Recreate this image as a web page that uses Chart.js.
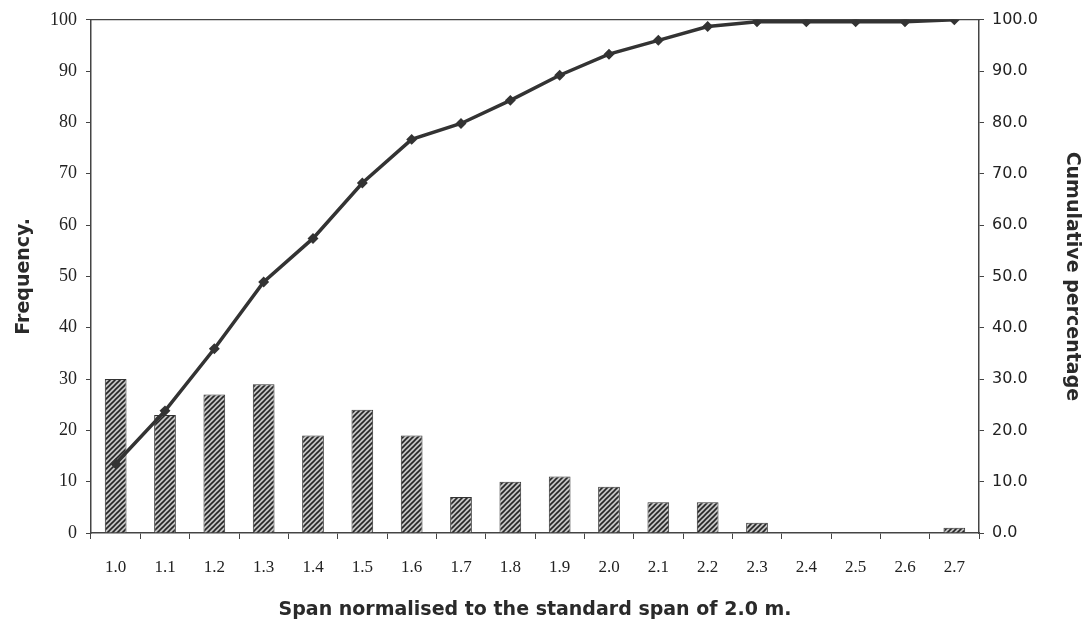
<!DOCTYPE html>
<html>
<head>
<meta charset="utf-8">
<script src="https://cdn.jsdelivr.net/npm/chart.js@4/dist/chart.umd.min.js"></script>
<style>
    body { margin: 0; background: #fff; }
    #wrap { width: 1084px; height: 627px; }
</style>
</head>
<body>
<div id="wrap"><canvas id="spanChart" width="1084" height="627"></canvas></div>
<script>
// Span classes (normalised to 2.0 m)
const spans = ['1.0', '1.1', '1.2', '1.3', '1.4', '1.5', '1.6', '1.7', '1.8',
               '1.9', '2.0', '2.1', '2.2', '2.3', '2.4', '2.5', '2.6', '2.7'];

// Frequency per class (bars, left axis)
const frequency = [30, 23, 27, 29, 19, 24, 19, 7, 10, 11, 9, 6, 6, 2, 0, 0, 0, 1];

// Cumulative percentage (line, right axis)
const cumulative = [13.5, 23.8, 35.9, 48.9, 57.4, 68.2, 76.7, 79.8, 84.3,
                    89.2, 93.3, 96.0, 98.7, 99.6, 99.6, 99.6, 99.6, 100.0];

const serif = "'Liberation Serif', 'Times New Roman', serif";
const sans = "'DejaVu Sans', Arial, sans-serif";
const ink = '#222';
const axisGrey = '#444';

const canvas = document.getElementById('spanChart');
const ctx = canvas.getContext('2d');

// Diagonal hatch fill like the printed chart
function hatchPattern() {
    const n = 5;
    const c = document.createElement('canvas');
    c.width = n;
    c.height = n;
    const g = c.getContext('2d');
    g.fillStyle = '#c4c4c4';
    g.fillRect(0, 0, n, n);
    g.strokeStyle = '#262626';
    g.lineWidth = 1.6;
    g.beginPath();
    g.moveTo(0, n); g.lineTo(n, 0);
    g.moveTo(-1, 1); g.lineTo(1, -1);
    g.moveTo(n - 1, n + 1); g.lineTo(n + 1, n - 1);
    g.stroke();
    return ctx.createPattern(c, 'repeat');
}

const chart = new Chart(ctx, {
    type: 'bar',
    data: {
        labels: spans,
        datasets: [
            {
                type: 'line',
                label: 'Cumulative percentage',
                data: cumulative,
                yAxisID: 'y1',
                borderColor: '#333',
                borderWidth: 3.5,
                pointStyle: 'rectRot',
                pointRadius: 3,
                pointBackgroundColor: '#333',
                pointBorderColor: '#333',
                tension: 0,
                order: 0
            },
            {
                label: 'Frequency',
                data: frequency,
                yAxisID: 'y',
                backgroundColor: hatchPattern(),
                borderColor: '#333',
                borderWidth: 1,
                barPercentage: 0.44,
                categoryPercentage: 1.0,
                order: 1
            }
        ]
    },
    options: {
        responsive: false,
        animation: false,
        layout: { padding: { top: 18, right: 0, left: 0, bottom: 0 } },
        plugins: {
            legend: { display: false },
            tooltip: { enabled: false }
        },
        scales: {
            x: {
                position: 'bottom',
                offset: true,
                grid: {
                    offset: true,
                    drawOnChartArea: false,
                    tickLength: 6,
                    color: axisGrey
                },
                border: { color: axisGrey, width: 1.5 },
                ticks: {
                    color: ink,
                    font: { family: serif, size: 17 },
                    padding: 18,
                    maxRotation: 0
                },
                title: {
                    display: true,
                    text: 'Span normalised to the standard span of 2.0 m.',
                    color: '#2a2a2a',
                    font: { family: sans, size: 19, weight: 'bold' },
                    padding: { top: 0, bottom: 6 }
                },
                afterFit: function(scale) { scale.height = 94; }
            },
            xTop: {
                position: 'top',
                labels: spans,
                grid: { display: false },
                ticks: { display: false },
                border: { color: axisGrey, width: 1.2 },
                afterFit: function(scale) { scale.height = 0; }
            },
            y: {
                position: 'left',
                min: 0,
                max: 100,
                ticks: {
                    stepSize: 10,
                    color: ink,
                    font: { family: serif, size: 18 },
                    padding: 9
                },
                grid: {
                    drawOnChartArea: false,
                    tickLength: 5,
                    color: axisGrey
                },
                border: { color: axisGrey, width: 1.5 },
                title: {
                    display: true,
                    text: 'Frequency.',
                    color: '#2a2a2a',
                    font: { family: sans, size: 19, weight: 'bold' },
                    padding: { top: 12.5, bottom: 0 }
                },
                afterFit: function(scale) { scale.width = 91; }
            },
            y1: {
                position: 'right',
                min: 0,
                max: 100,
                ticks: {
                    stepSize: 10,
                    color: ink,
                    font: { family: sans, size: 16 },
                    padding: 8,
                    callback: function(value) { return value.toFixed(1); }
                },
                grid: {
                    drawOnChartArea: false,
                    tickLength: 5,
                    color: axisGrey
                },
                border: { color: axisGrey, width: 1.5 },
                title: {
                    display: true,
                    text: 'Cumulative percentage',
                    color: '#2a2a2a',
                    font: { family: sans, size: 19, weight: 'bold' },
                    padding: { top: 1, bottom: 0 }
                },
                afterFit: function(scale) { scale.width = 105; }
            }
        }
    }
});
</script>
</body>
</html>
